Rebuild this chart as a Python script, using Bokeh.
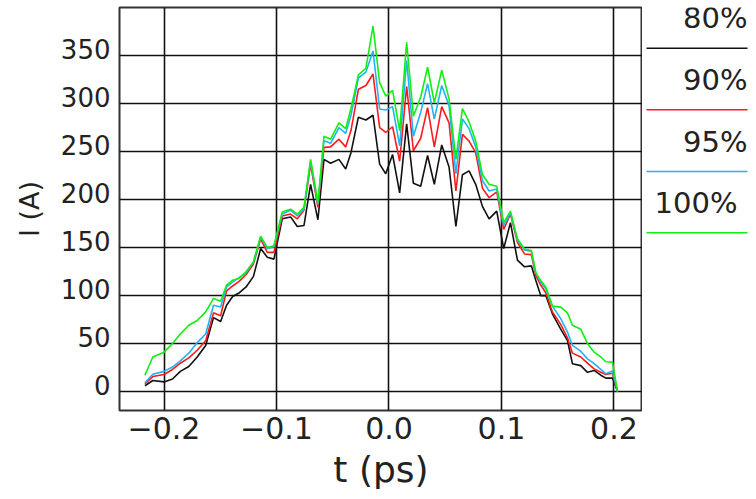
from bokeh.plotting import figure
from bokeh.models import Range1d, FixedTicker, LinearAxis
from bokeh.layouts import row
from bokeh.embed import file_html
from bokeh.resources import INLINE
from bokeh.core.properties import value

# ---- data ----
t_ps = [-0.2170, -0.2100, -0.2000, -0.1925, -0.1855, -0.1780, -0.1705, -0.1630, -0.1560, -0.1497,
        -0.1444, -0.1390, -0.1330, -0.1270, -0.1205, -0.1141, -0.1082, -0.1023, -0.0949, -0.0875,
        -0.0815, -0.0756, -0.0697, -0.0632, -0.0578, -0.0519, -0.0445, -0.0385, -0.0338, -0.0272,
        -0.0205, -0.0142, -0.0083, -0.0029, 0.0032, 0.0095, 0.0157, 0.0217, 0.0282, 0.0343,
        0.0403, 0.0469, 0.0534, 0.0595, 0.0653, 0.0712, 0.0771, 0.0831, 0.0890, 0.0958,
        0.1020, 0.1080, 0.1142, 0.1205, 0.1266, 0.1305, 0.1349, 0.1394, 0.1453, 0.1527,
        0.1587, 0.1631, 0.1705, 0.1765, 0.1824, 0.1883, 0.1928, 0.1987, 0.2032]

i_80 = [6, 11.5, 10, 13, 21, 26, 36, 48, 77, 73,
        90, 99, 103, 109, 120, 149, 140, 138, 180, 182,
        172, 173, 216, 179, 242, 238, 242, 232, 249, 286,
        283, 288, 237, 227, 247, 207, 279, 217, 214, 246,
        216, 257, 234, 172, 226, 230, 216, 193, 180, 188,
        149, 176, 137, 130, 131, 116, 100, 100, 81, 65,
        53, 29, 27, 20, 22, 17, 14, 14, 0]

i_90 = [8, 15.6, 17.7, 23, 29.5, 35, 43, 53, 82, 79,
        105, 110, 115, 122, 133, 159, 145, 145, 183, 185,
        180, 189, 237, 192, 254.5, 255, 263, 255, 272, 315,
        319, 331, 275, 270, 276, 240, 318, 251, 264, 296,
        255, 297, 280, 209, 268, 261, 249, 212, 202, 208,
        169, 185, 155.6, 143.4, 142.7, 121, 111, 103, 83, 70,
        56, 40, 36, 29.5, 23.6, 20, 17.7, 19, 0]

i_95 = [9, 18, 21, 25.5, 32, 40, 51, 60, 90, 88,
        109, 114, 119, 124, 135, 161, 149, 151, 185, 189,
        183, 190, 240, 195, 261.5, 258.7, 275, 269, 288, 327,
        333, 355, 294.5, 293.5, 297, 256, 345, 266, 291, 321,
        284, 319, 298, 227, 284, 274, 255, 220, 209, 211,
        173, 186, 158, 147.6, 146, 124, 114, 107, 89, 76,
        62, 48, 42, 34, 29, 23, 18.4, 21.5, 0]

i_100 = [17, 36, 41, 50, 60, 69, 74, 83, 97, 94,
         111, 116, 118, 125, 135, 162, 150, 152, 187, 190,
         185, 192, 242, 197, 266, 263, 280, 274, 295, 330,
         337, 381, 322, 308, 314, 272, 364, 287, 307, 338,
         301, 335, 305, 242, 295, 281, 261, 226, 216, 214,
         176, 188, 159, 148.6, 147, 124, 115.6, 109, 89, 88,
         82, 69, 65, 50, 41, 36, 31, 30.6, 0]

series_labels = ["80%", "90%", "95%", "100%"]
series_values = [i_80, i_90, i_95, i_100]
series_colors = ["#111111", "#ff1a1a", "#1fb4f5", "#12ee12"]

x_ticks = [-0.2, -0.1, 0.0, 0.1, 0.2]
x_tick_labels = ["\u22120.2", "\u22120.1", "0.0", "0.1", "0.2"]
y_ticks = [0, 50, 100, 150, 200, 250, 300, 350]
y_tick_labels = ["0", "50", "100", "150", "200", "250", "300", "350"]

FONT = "DejaVu Sans"
TXT = "#222222"

Y0, Y1 = -19.8, 400.3
# the reference prints its y tick labels a little above their grid lines
LABEL_LIFT = 7.3

# ---- main plot ----
p = figure(width=642, height=499,
           x_range=Range1d(-0.2396, 0.2254), y_range=Range1d(Y0, Y1),
           output_backend="svg", toolbar_location=None,
           min_border_left=119, min_border_right=0, min_border_top=7, min_border_bottom=89)
p.background_fill_color = "white"
p.border_fill_color = "white"
p.outline_line_color = "#333333"
p.outline_line_width = 2

for vals, col in zip(series_values, series_colors):
    p.line(t_ps, vals, line_color=col, line_width=1.6)

p.yaxis.visible = False

p.extra_y_ranges = {"ylab": Range1d(Y0 - LABEL_LIFT, Y1 - LABEL_LIFT)}
yax = LinearAxis(y_range_name="ylab", ticker=FixedTicker(ticks=y_ticks))
yax.major_label_overrides = {k: v for k, v in zip(y_ticks, y_tick_labels)}
p.add_layout(yax, "left")

p.xaxis.ticker = FixedTicker(ticks=x_ticks)
p.xaxis.major_label_overrides = {k: v for k, v in zip(x_ticks, x_tick_labels)}

for ax in (p.xaxis[0], yax):
    ax.axis_line_color = None
    ax.major_tick_in = 0
    ax.major_tick_out = 0
    ax.minor_tick_line_color = None
    ax.major_label_text_font = FONT
    ax.major_label_text_color = TXT
    ax.axis_label_text_font = FONT
    ax.axis_label_text_color = TXT
    ax.axis_label_text_font_style = "normal"

p.xaxis.major_label_text_font_size = "30px"
yax.major_label_text_font_size = "26px"
p.xaxis.major_label_standoff = 6
yax.major_label_standoff = 9
p.xaxis.axis_label = "t (ps)"
yax.axis_label = "I (A)"
p.xaxis.axis_label_text_font_size = "36px"
yax.axis_label_text_font_size = "27px"
p.xaxis.axis_label_standoff = 7
yax.axis_label_standoff = 13

p.xgrid.ticker = FixedTicker(ticks=x_ticks)
p.ygrid.ticker = FixedTicker(ticks=y_ticks)
p.grid.grid_line_color = "#111111"
p.grid.grid_line_width = 1.6

# ---- legend panel on the right (frame aligned with the main frame: screen y 7..410) ----
lg = figure(width=114, height=499, x_range=Range1d(0, 114), y_range=Range1d(410, 7),
            output_backend="svg", toolbar_location=None,
            x_axis_type=None, y_axis_type=None,
            min_border_left=0, min_border_right=0, min_border_top=7, min_border_bottom=89)
lg.outline_line_color = None
lg.grid.visible = False
lg.background_fill_color = "white"
lg.border_fill_color = "white"

label_x = [105, 105, 105, 95]
label_y = [17.5, 79, 141, 202.5]
line_y = [47.7, 109.3, 171, 232.3]
lg.text(x=label_x, y=label_y, text=series_labels, text_align="right", text_baseline="middle",
        text_font=value(FONT), text_font_size="29px", text_color=TXT)
lg.segment(x0=[4] * 4, x1=[105] * 4, y0=line_y, y1=line_y, line_color=series_colors, line_width=1.5)

layout = row(p, lg)
open("out.html", "w").write(file_html(layout, INLINE))
